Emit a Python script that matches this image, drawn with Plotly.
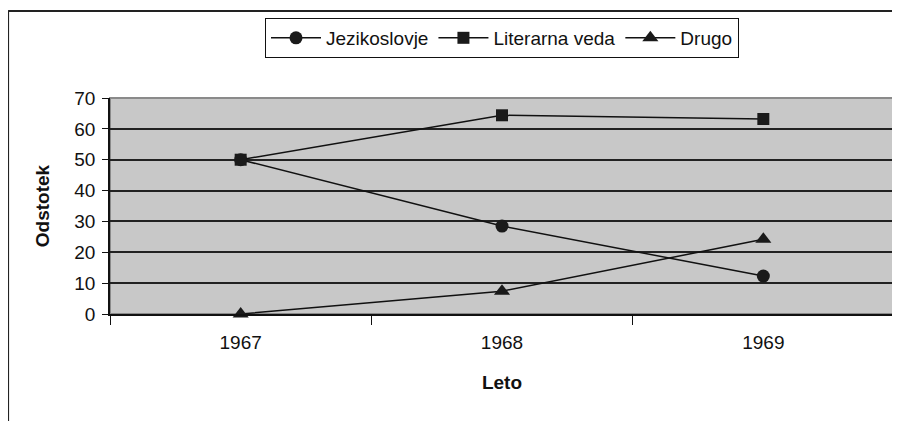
import plotly.graph_objs as go

years = ["1967", "1968", "1969"]
jezikoslovje = [50, 28.5, 12.3]
literarna_veda = [50, 64.4, 63.2]
drugo = [0, 7.4, 24.2]

series = [
    ("Jezikoslovje", jezikoslovje, "circle", 13),
    ("Literarna veda", literarna_veda, "square", 12),
    ("Drugo", drugo, "triangle-up", 14),
]

fig = go.Figure()

for name, vals, sym, size in series:
    fig.add_trace(go.Scatter(
        x=years, y=vals, name=name, mode="lines+markers",
        line=dict(color="#111111", width=1.5),
        marker=dict(symbol=sym, size=size, color="#1a1a1a"),
        cliponaxis=False,
    ))

# gray plot border (top/right)
fig.add_shape(type="rect", xref="paper", yref="paper", x0=0, x1=1, y0=0, y1=1,
              line=dict(color="#8a8a8a", width=2), layer="below")
# outer frame lines (top and left)
fig.add_shape(type="line", xref="paper", yref="paper", x0=-0.130, x1=1.02, y0=1.403, y1=1.403,
              line=dict(color="#222222", width=2))
fig.add_shape(type="line", xref="paper", yref="paper", x0=-0.130, x1=-0.130, y0=1.403, y1=-0.6,
              line=dict(color="#222222", width=2))

# page body has an 8px margin, so the figure is shifted by 8px
fig.update_layout(
    width=892, height=413,
    margin=dict(l=102, r=6, t=90, b=107),
    paper_bgcolor="white",
    plot_bgcolor="#c8c8c8",
    font=dict(family="Liberation Sans, Arial, sans-serif", size=19, color="#111111"),
    showlegend=True,
    legend=dict(orientation="h", x=0.5, y=1.278, xanchor="center", yanchor="middle",
                bordercolor="#111111", borderwidth=1, bgcolor="white",
                font=dict(size=19), itemwidth=50, tracegroupgap=0),
    xaxis=dict(
        type="category", range=[-0.5, 2.5], tickson="boundaries",
        ticks="outside", ticklen=9, tickcolor="#111111", tickwidth=1,
        showline=True, linecolor="#111111", linewidth=1.5,
        showgrid=False, zeroline=False, ticklabelstandoff=10,
        title=dict(text="<b>Leto</b>", standoff=24, font=dict(size=19)),
        tickfont=dict(size=19),
    ),
    yaxis=dict(
        range=[0, 70], dtick=10,
        ticks="outside", ticklen=6, tickcolor="#111111", tickwidth=1,
        showline=True, linecolor="#111111", linewidth=1.5,
        showgrid=True, gridcolor="#222222", gridwidth=1.6,
        zeroline=False, ticklabelstandoff=3,
        title=dict(text="<b>Odstotek</b>", standoff=20, font=dict(size=19)),
        tickfont=dict(size=19),
    ),
)

fig.write_html("out.html")
